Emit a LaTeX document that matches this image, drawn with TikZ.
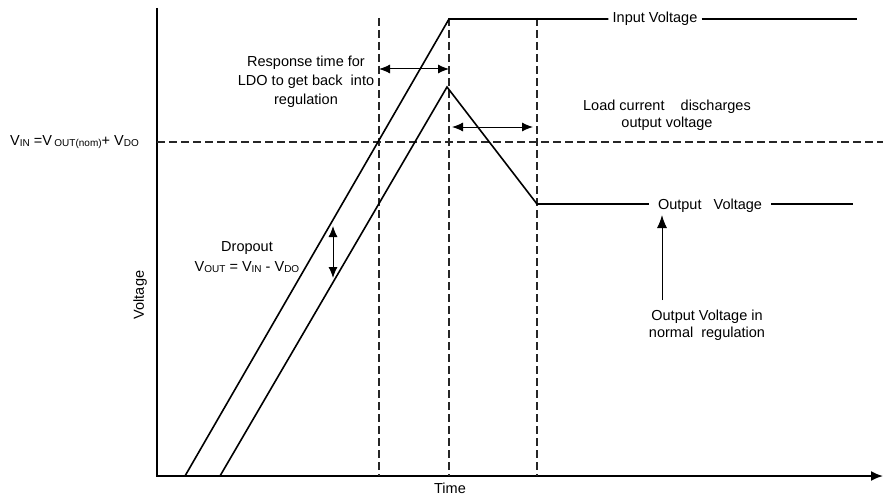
\documentclass[tikz,border=0pt]{standalone}
\usepackage{fontspec}
\setmainfont{Liberation Sans}
\usetikzlibrary{arrows.meta,positioning}
\newcommand\lowsub[1]{\raisebox{-0.1ex}{\fontsize{10}{10}\selectfont #1}}
\tikzset{
  plotline/.style={line width=1.6pt},
  guide/.style={line width=1.2pt, dash pattern=on 8pt off 4pt, black!85},
  span/.style={line width=1pt, {Latex[length=11pt,width=9pt]}-{Latex[length=11pt,width=9pt]}},
  pointer/.style={line width=1pt, -{Latex[length=13pt,width=10pt]}},
  lbl/.style={font=\fontsize{14.5}{19}\selectfont, inner sep=2pt, align=center}
}
\begin{document}
\begin{tikzpicture}[x=1pt,y=-1pt]
\useasboundingbox (0,0) rectangle (883,495);

% Axes
\draw[line width=1.8pt,-{Latex[length=12pt,width=10pt]}] (157,8) -- (157,476) -- (883,476);
\node[lbl, anchor=base, inner sep=0pt] (time) at (450,493) {Time};
\node[lbl, rotate=90] (volt) at (140,295) {Voltage};

% Time markers
\foreach \x in {379,449,537}
  \draw[guide] (\x,18) -- (\x,476);

% Regulation threshold
\draw[guide] (157,142) -- (883,142);
\node[lbl, anchor=west] (thr) at (8,142) {V\lowsub{IN} =V\,\lowsub{OUT(nom)}+ V\lowsub{DO}};

% Input voltage
\node[lbl, inner xsep=4pt] (vin) at (655,19) {Input Voltage};
\draw[plotline] (185,476) -- (449,19) -- (vin.west);
\draw[plotline] (vin.east) -- (857,19);

% Output voltage
\node[lbl, inner xsep=9pt] (vout) at (710,206) {Output\ \ \ Voltage};
\draw[plotline] (220,476) -- (447,87) -- (537,204) -- (vout.west |- 0,204);
\draw[plotline] (vout.east |- 0,204) -- (853,204);

% Response time
\node[lbl] (resp) at (306,82) {Response time for\\LDO to get back\ \ into\\regulation};
\draw[span] (379,69) -- (449,69);

% Discharge
\node[lbl, font=\fontsize{14.5}{17}\selectfont] (load) at (667,115) {Load current\ \ \ \ discharges\\output voltage};
\draw[span] (452,127) -- (533,127);

% Dropout
\node[lbl, font=\fontsize{14.5}{20}\selectfont] (drop) at (247,257) {Dropout\\V\lowsub{OUT} = V\lowsub{IN} - V\lowsub{DO}};
\draw[span] (333,226) -- (333,278);

% Normal regulation
\node[lbl, font=\fontsize{14.5}{17}\selectfont] (reg) at (707,325) {Output Voltage in\\normal\ \ regulation};
\draw[pointer] (662,300) -- (662,215);

\end{tikzpicture}
\end{document}
